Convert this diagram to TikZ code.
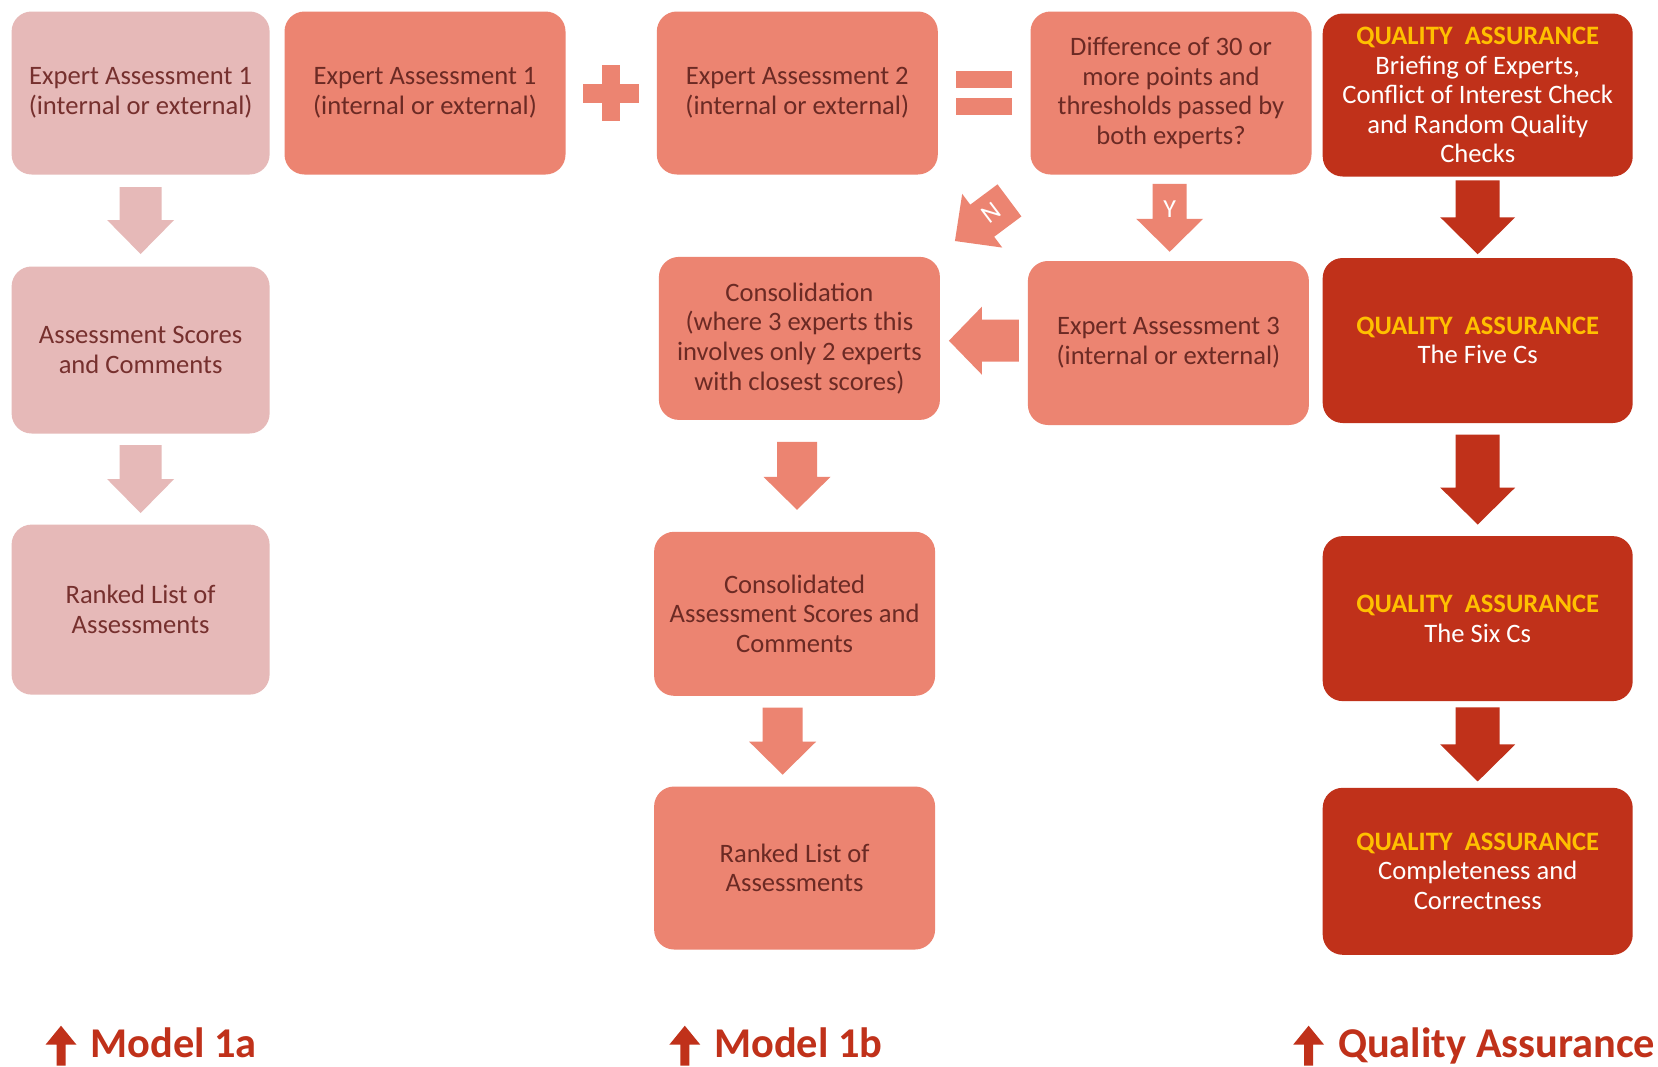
\documentclass[tikz,border=0pt]{standalone}
\usepackage{fontspec}
\setmainfont{Carlito}
\usetikzlibrary{calc}

\definecolor{lightrose}{HTML}{E6B9B8}
\definecolor{rosetext}{HTML}{76302E}
\definecolor{salmon}{HTML}{EC8471}
\definecolor{salmontext}{HTML}{6B2A24}
\definecolor{brick}{HTML}{C0311A}
\definecolor{qagold}{HTML}{FFC000}

\tikzset{
  box/.style={rounded corners=10pt, inner sep=0pt, align=center, font=\fontsize{13.3}{14.8}\selectfont},
  boxa/.style={box, fill=lightrose, text=rosetext, minimum width=129pt},
  boxb/.style={box, fill=salmon, text=salmontext, minimum width=140.5pt},
  boxqa/.style={box, fill=brick, text=white, minimum width=155pt},
  yn/.style={text=white, inner sep=0pt, font=\fontsize{13}{15}\selectfont},
  modellabel/.style={anchor=base west, inner sep=0pt, text=brick, font=\fontsize{21.2}{25}\selectfont\bfseries}
}
\newcommand{\qahead}{{\color{qagold}\textbf{QUALITY\ \ ASSURANCE}}}
\newcommand{\barrow}[7]{%
  \fill[#1, shift={#2}, rotate=#3] (-#5/2,-#4/2) -- (#5/2,-#4/2) -- (#5/2,#4/2-#7) -- (#6/2,#4/2-#7) -- (0,#4/2) -- (-#6/2,#4/2-#7) -- (-#5/2,#4/2-#7) -- cycle;}

\begin{document}
\begin{tikzpicture}[x=0.5pt, y=-0.5pt]
\fill[white] (0,0) rectangle (1658,1066);
\useasboundingbox (0,0) rectangle (1658,1066);

% model 1a
\node[boxa, minimum height=81.5pt] (ea1a) at (140.6,93) {Expert Assessment 1\\(internal or external)};
\node[boxa, minimum height=83.5pt] (score1a) at (140.6,350) {Assessment Scores\\and Comments};
\node[boxa, minimum height=85pt] (rank1a) at (140.6,609.6) {Ranked List of\\Assessments};
\barrow{lightrose}{($(ea1a.south)!.5!(score1a.north)$)}{0}{67}{42}{67}{34}
\barrow{lightrose}{($(score1a.south)!.5!(rank1a.north)$)}{0}{68}{42}{67}{34}

% model 1b
\node[boxb, minimum height=81.5pt] (ea1b) at (425,93) {Expert Assessment 1\\(internal or external)};
\node[boxb, minimum height=81.5pt] (ea2b) at (797.3,93) {Expert Assessment 2\\(internal or external)};
\node[boxb, minimum height=81.5pt] (diff) at (1171,93) {Difference of 30 or\\more points and\\thresholds passed by\\both experts?};
\node[boxb, minimum height=81.5pt] (cons) at (799.4,338.4) {Consolidation\\(where 3 experts this\\involves only 2 experts\\with closest scores)};
\node[boxb, minimum height=82pt] (ea3b) at (1168.4,343) {Expert Assessment 3\\(internal or external)};
\node[boxb, minimum height=82pt] (consscore) at (794.6,613.8) {Consolidated\\Assessment Scores and\\Comments};
\node[boxb, minimum height=81.5pt] (rank1b) at (794.6,868) {Ranked List of\\Assessments};

\begin{scope}[shift={($(ea1b.east)!.5!(ea2b.west)$)}]
\fill[salmon] (-28,-9.5) rectangle (28,9.5);
\fill[salmon] (-9,-28) rectangle (9,28);
\end{scope}
\begin{scope}[shift={($(ea2b.east)!.5!(diff.west)$)}]
\fill[salmon] (-28,-22) rectangle (28,-4.7);
\fill[salmon] (-28,4.7) rectangle (28,22.3);
\end{scope}

\barrow{salmon}{($(diff.south)!.5!(ea3b.north)$)}{0}{68}{34}{67}{33}
\node[yn] (ylab) at ($(diff.south)!.5!(ea3b.north)+(0,-9)$) {Y};
\barrow{salmon}{($(diff.south west)!.5!(cons.north east)+(-3,5)$)}{-53.3}{68}{40}{67}{34}
\node[yn, rotate=37] (nlab) at ($(diff.south west)!.5!(cons.north east)+(6,-3)$) {N};
\barrow{salmon}{($(ea3b.west)!.5!(cons.east)$)}{-90}{70}{42}{68}{33}
\barrow{salmon}{($(cons.south)!.5!(consscore.north)$)}{0}{68}{40}{67}{33}
\barrow{salmon}{($(consscore.south)!.5!(rank1b.north)+(-12,0)$)}{0}{67}{40}{67}{33}

% quality assurance
\node[boxqa, minimum height=81.5pt] (qa1) at (1477.7,95) {\qahead\\Briefing of Experts,\\Conflict of Interest Check\\and Random Quality\\Checks};
\node[boxqa, minimum height=82.5pt] (qa2) at (1477.7,340.5) {\qahead\\The Five Cs};
\node[boxqa, minimum height=82.5pt] (qa3) at (1477.7,618.6) {\qahead\\The Six Cs};
\node[boxqa, minimum height=83.5pt] (qa4) at (1477.7,871.3) {\qahead\\Completeness and\\Correctness};
\barrow{brick}{($(qa1.south)!.5!(qa2.north)$)}{0}{74}{44}{75}{37}
\barrow{brick}{($(qa2.south)!.5!(qa3.north)$)}{0}{90}{44}{75}{37}
\barrow{brick}{($(qa3.south)!.5!(qa4.north)$)}{0}{74}{44}{75}{37}

% labels at the foot
\node[modellabel] (m1a) at (90,1057) {Model 1a};
\node[modellabel] (m1b) at (713.8,1057) {Model 1b};
\node[modellabel] (mqa) at (1337.6,1057) {Quality Assurance};
\barrow{brick}{($(m1a.base west)+(-29,-11.3)$)}{180}{40}{9}{31}{19}
\barrow{brick}{($(m1b.base west)+(-29,-11.3)$)}{180}{40}{9}{31}{19}
\barrow{brick}{($(mqa.base west)+(-29,-11.3)$)}{180}{40}{9}{31}{19}
\end{tikzpicture}
\end{document}
